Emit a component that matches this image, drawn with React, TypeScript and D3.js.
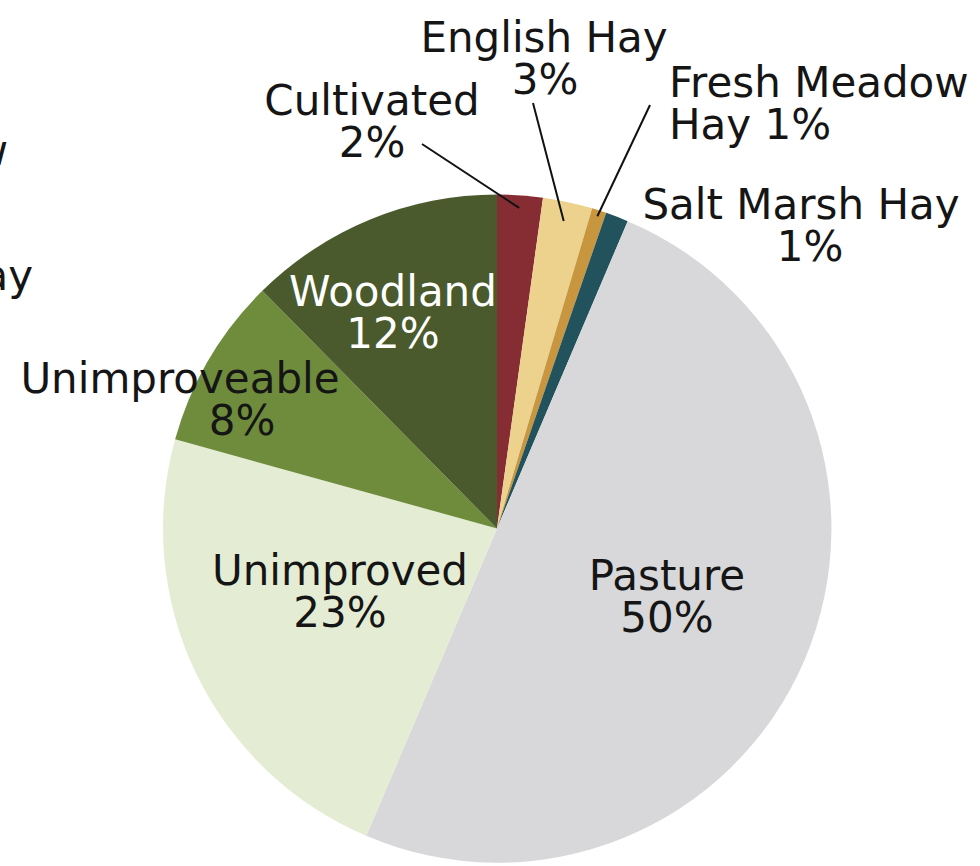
import React from "react";
import * as d3 from "d3";

const categories = [
  "Cultivated",
  "English Hay",
  "Fresh Meadow Hay",
  "Salt Marsh Hay",
  "Pasture",
  "Unimproved",
  "Unimproveable",
  "Woodland",
];
const values = [2.2, 2.4, 0.7, 1.1, 50.0, 22.9, 8.3, 12.4];
const colors = [
  "#862d34",
  "#edd28e",
  "#c8963f",
  "#22525c",
  "#d8d8da",
  "#e4edd3",
  "#6e8c3c",
  "#4a5a2c",
];
const labelLines = [
  ["Cultivated", "2%"],
  ["English Hay", "3%"],
  ["Fresh Meadow", "Hay 1%"],
  ["Salt Marsh Hay", "1%"],
  ["Pasture", "50%"],
  ["Unimproved", "23%"],
  ["Unimproveable", "8%"],
  ["Woodland", "12%"],
];

const W = 980;
const H = 866;
const cx = 497;
const cy = 528.5;
const R = 334;
const FS = 42;
const LH = 42;

const labelPos: { x: number[]; y: number; anchor: string; fill: string }[] = [
  { x: [372, 372], y: 115, anchor: "middle", fill: "#151515" },
  { x: [544, 545], y: 52, anchor: "middle", fill: "#151515" },
  { x: [669, 669], y: 97, anchor: "start", fill: "#151515" },
  { x: [801, 810], y: 219, anchor: "middle", fill: "#151515" },
  { x: [667, 667], y: 590, anchor: "middle", fill: "#151515" },
  { x: [340, 340], y: 585, anchor: "middle", fill: "#151515" },
  { x: [180, 242], y: 393, anchor: "middle", fill: "#151515" },
  { x: [393, 393], y: 306, anchor: "middle", fill: "#fff" },
];

const leaders = [
  { i: 0, from: [422, 144], rFrac: 0.98 },
  { i: 1, from: [533, 103], rFrac: 0.96 },
  { i: 2, from: [650, 105], rFrac: 1.0 },
];

export default function App() {
  const pie = d3
    .pie<number>()
    .sort(null)
    .value((d) => d)
    .startAngle(0)
    .endAngle(2 * Math.PI);
  const arcs = pie(values);
  const arc = d3.arc<d3.PieArcDatum<number>>().innerRadius(0).outerRadius(R);

  return (
    <svg
      width={W}
      height={H}
      style={{ position: "absolute", left: 0, top: 0 }}
      fontFamily="'DejaVu Sans', Verdana, sans-serif"
      fontSize={FS}
    >
      <rect width={W} height={H} fill="#fff" />
      <g transform={`translate(${cx},${cy})`}>
        {arcs.map((a, i) => (
          <path key={categories[i]} d={arc(a) || ""} fill={colors[i]} />
        ))}
      </g>
      {leaders.map((l) => {
        const a = arcs[l.i];
        const mid = (a.startAngle + a.endAngle) / 2;
        const r = R * l.rFrac - 6;
        const x2 = cx + r * Math.sin(mid);
        const y2 = cy - r * Math.cos(mid);
        return (
          <line
            key={l.i}
            x1={l.from[0]}
            y1={l.from[1]}
            x2={x2}
            y2={y2}
            stroke="#111"
            strokeWidth={2}
          />
        );
      })}
      {labelPos.map((p, i) => (
        <g key={categories[i]} fill={p.fill} textAnchor={p.anchor}>
          {labelLines[i].map((t, j) => (
            <text key={j} x={p.x[j]} y={p.y + j * LH}>
              {t}
            </text>
          ))}
        </g>
      ))}
      {/* partially visible labels cut off at the left edge */}
      <text x={8} y={165} textAnchor="end" fill="#151515">
        Fresh Meadow
      </text>
      <text x={33} y={290} textAnchor="end" fill="#151515">
        Salt Marsh Hay
      </text>
    </svg>
  );
}
